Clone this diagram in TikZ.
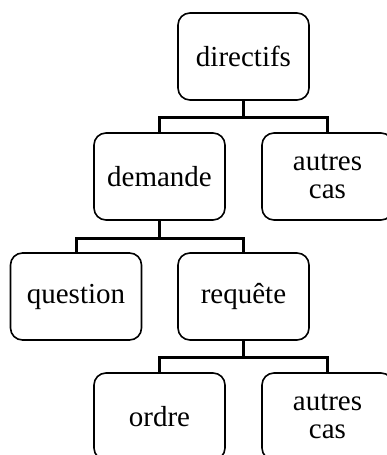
\documentclass[tikz,border=0pt]{standalone}
\usepackage{fontspec}
\setmainfont{Liberation Serif}
\begin{document}
\begin{tikzpicture}[x=1pt,y=-1pt,
  box/.style={draw, line width=1.6pt, rounded corners=12pt, minimum width=131pt, minimum height=87pt,
    inner sep=0pt, align=center, font=\fontsize{29pt}{28pt}\selectfont},
  link/.style={line width=3pt}]
\useasboundingbox (0,0) rectangle (387,455);
\clip (0,0) rectangle (387,455);
\node[box] (dir) at (243.5,56.5) {directifs};
\node[box] (dem) at (159.5,176.5) {demande};
\node[box] (aut1) at (327.5,176.5) {autres\\cas};
\node[box] (que) at (76,296.5) {question};
\node[box] (req) at (243.5,296.5) {requête};
\node[box] (ord) at (159.5,416.5) {ordre};
\node[box] (aut2) at (327.5,416.5) {autres\\cas};
\draw[link] (dir.south) -- ++(0,17) -| (dem.north);
\draw[link] (dir.south) -- ++(0,17) -| (aut1.north);
\draw[link] (dem.south) -- ++(0,18) -| (que.north);
\draw[link] (dem.south) -- ++(0,18) -| (req.north);
\draw[link] (req.south) -- ++(0,17) -| (ord.north);
\draw[link] (req.south) -- ++(0,17) -| (aut2.north);
\end{tikzpicture}
\end{document}
